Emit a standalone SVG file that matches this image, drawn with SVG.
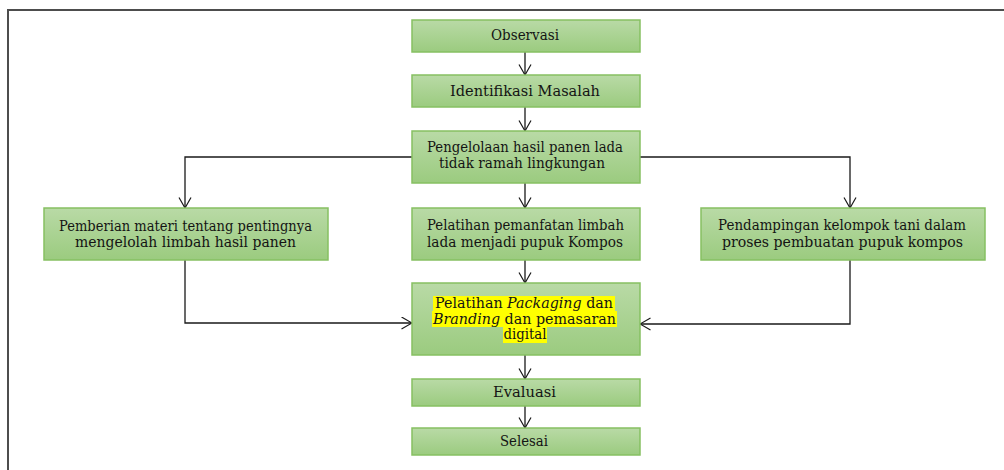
<svg xmlns="http://www.w3.org/2000/svg" width="1004" height="470" viewBox="0 0 1004 470">
<defs>
<linearGradient id="g" x1="0" y1="0" x2="0" y2="1">
<stop offset="0" stop-color="#b9daa6"/>
<stop offset="1" stop-color="#9bcb7f"/>
</linearGradient>
<marker id="ah" markerUnits="userSpaceOnUse" viewBox="0 0 12 14" refX="11" refY="6.5" markerWidth="12" markerHeight="14" orient="auto">
<path d="M0.5,0.5 L11,6.5 L0.5,12.5" fill="none" stroke="#1a1a1a" stroke-width="1.2"/>
</marker>
</defs>
<style>
.box{fill:url(#g);stroke:#86c062;stroke-width:1.5}
.t{font-family:"DejaVu Serif","Liberation Serif",serif;font-size:14px;fill:#141414;text-anchor:middle}
.i{font-style:italic}
.c{fill:none;stroke:#1a1a1a;stroke-width:1.3}
.hl{fill:#ffff00}
</style>
<rect width="1004" height="470" fill="#ffffff"/>
<g id="frame">
<path d="M8,470 L8,10 L1004,10" fill="none" stroke="#4d4d4d" stroke-width="2"/>
</g>
<g id="connectors">
<path class="c" d="M525,52 L525,75" marker-end="url(#ah)"/>
<path class="c" d="M525,107 L525,131" marker-end="url(#ah)"/>
<path class="c" d="M525,183 L525,208" marker-end="url(#ah)"/>
<path class="c" d="M412,157 L185,157 L185,208" marker-end="url(#ah)"/>
<path class="c" d="M640,157 L850,157 L850,208" marker-end="url(#ah)"/>
<path class="c" d="M525,260 L525,283" marker-end="url(#ah)"/>
<path class="c" d="M185,260 L185,323 L412,323" marker-end="url(#ah)"/>
<path class="c" d="M850,260 L850,324 L640,324" marker-end="url(#ah)"/>
<path class="c" d="M525,355 L525,379" marker-end="url(#ah)"/>
<path class="c" d="M525,406 L525,428" marker-end="url(#ah)"/>
</g>
<g id="observasi">
<rect class="box" x="412" y="20" width="228" height="32"/>
<text class="t" x="525" y="40" textLength="68" lengthAdjust="spacingAndGlyphs">Observasi</text>
</g>
<g id="identifikasi">
<rect class="box" x="412" y="75" width="228" height="32"/>
<text class="t" x="525" y="96" textLength="150" lengthAdjust="spacingAndGlyphs">Identifikasi Masalah</text>
</g>
<g id="pengelolaan">
<rect class="box" x="412" y="131" width="228" height="52"/>
<text class="t" x="525" y="152" textLength="196" lengthAdjust="spacingAndGlyphs">Pengelolaan hasil panen lada</text>
<text class="t" x="522" y="168" textLength="166" lengthAdjust="spacingAndGlyphs">tidak ramah lingkungan</text>
</g>
<g id="pemberian">
<rect class="box" x="44" y="208" width="284" height="52"/>
<text class="t" x="185.5" y="231" textLength="253" lengthAdjust="spacingAndGlyphs">Pemberian materi tentang pentingnya</text>
<text class="t" x="185.5" y="247" textLength="221" lengthAdjust="spacingAndGlyphs">mengelolah limbah hasil panen</text>
</g>
<g id="pelatihan-limbah">
<rect class="box" x="412" y="208" width="228" height="52"/>
<text class="t" x="525.5" y="230" textLength="197" lengthAdjust="spacingAndGlyphs">Pelatihan pemanfatan limbah</text>
<text class="t" x="525" y="247" textLength="196" lengthAdjust="spacingAndGlyphs">lada menjadi pupuk Kompos</text>
</g>
<g id="pendampingan">
<rect class="box" x="701" y="208" width="284" height="52"/>
<text class="t" x="842" y="230" textLength="248" lengthAdjust="spacingAndGlyphs">Pendampingan kelompok tani dalam</text>
<text class="t" x="842.5" y="247" textLength="241" lengthAdjust="spacingAndGlyphs">proses pembuatan pupuk kompos</text>
</g>
<g id="packaging">
<rect class="box" x="412" y="283" width="228" height="72"/>
<rect class="hl" x="433" y="296" width="182" height="15"/>
<rect class="hl" x="432" y="311" width="185" height="16"/>
<rect class="hl" x="503" y="327" width="44" height="16"/>
<text class="t" x="524" y="308" textLength="178" lengthAdjust="spacingAndGlyphs">Pelatihan <tspan class="i">Packaging</tspan> dan</text>
<text class="t" x="524.5" y="324" textLength="183" lengthAdjust="spacingAndGlyphs"><tspan class="i">Branding</tspan> dan pemasaran</text>
<text class="t" x="525" y="339" textLength="43" lengthAdjust="spacingAndGlyphs">digital</text>
</g>
<g id="evaluasi">
<rect class="box" x="412" y="379" width="228" height="27"/>
<text class="t" x="524.5" y="397" textLength="63" lengthAdjust="spacingAndGlyphs">Evaluasi</text>
</g>
<g id="selesai">
<rect class="box" x="412" y="428" width="228" height="27"/>
<text class="t" x="524" y="446" textLength="48" lengthAdjust="spacingAndGlyphs">Selesai</text>
</g>
</svg>
